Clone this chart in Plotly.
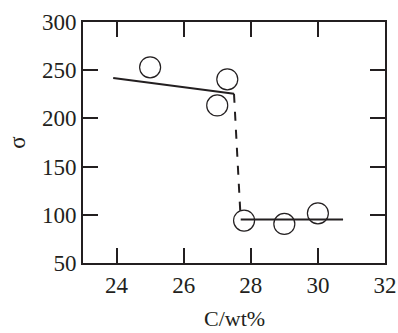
import plotly.graph_objects as go

# data points (open circles)
pts_x = [25.0, 27.3, 27.0, 27.8, 29.0, 30.0]
pts_y = [253, 240.5, 213.5, 94, 90.5, 101.5]

# fitted solid lines
fit1_x = [23.9, 27.5]
fit1_y = [242, 225.5]
fit2_x = [27.7, 30.75]
fit2_y = [95, 95]
# dashed transition
dash_x = [27.5, 27.7]
dash_y = [225.5, 95]

x_ticks = [24, 26, 28, 30, 32]
y_ticks = [50, 100, 150, 200, 250, 300]
x_title = "C/wt%"
y_title = "σ"

ink = "#231f20"
fig = go.Figure()
fig.add_trace(go.Scatter(x=fit1_x, y=fit1_y, mode="lines", line=dict(color=ink, width=2), showlegend=False))
fig.add_trace(go.Scatter(x=fit2_x, y=fit2_y, mode="lines", line=dict(color=ink, width=2), showlegend=False))
fig.add_trace(go.Scatter(x=dash_x, y=dash_y, mode="lines", line=dict(color=ink, width=2, dash="9px,9px"), showlegend=False))
fig.add_trace(go.Scatter(x=pts_x, y=pts_y, mode="markers",
                         marker=dict(symbol="circle-open", size=21, color=ink, line=dict(width=1.2, color=ink)),
                         showlegend=False, cliponaxis=False))

axis_common = dict(showline=True, linewidth=2, linecolor=ink, mirror="allticks", ticks="inside",
                   ticklen=15, tickwidth=2, tickcolor=ink, showgrid=False, zeroline=False, automargin=False,
                   tickfont=dict(family="Liberation Serif", size=23, color=ink))
fig.update_layout(
    width=398, height=333,
    margin=dict(l=83, r=13, t=22, b=70),
    plot_bgcolor="white", paper_bgcolor="white",
    xaxis=dict(range=[23, 32], tickvals=x_ticks, ticktext=[str(v) for v in x_ticks], **axis_common),
    yaxis=dict(range=[50, 300], tickvals=y_ticks, ticktext=[str(v) for v in y_ticks],
               title=dict(text=y_title, font=dict(family="Liberation Serif", size=23, color=ink), standoff=10),
               **axis_common),
    annotations=[dict(text=x_title, xref="paper", yref="paper", x=0.5, y=-0.285,
                      xanchor="center", yanchor="bottom", showarrow=False, borderpad=0,
                      font=dict(family="Liberation Serif", size=22, color=ink))],
)
fig.write_html("out.html", config={"displayModeBar": False},
               post_script="document.body.style.margin='0';document.body.style.overflow='hidden';")
